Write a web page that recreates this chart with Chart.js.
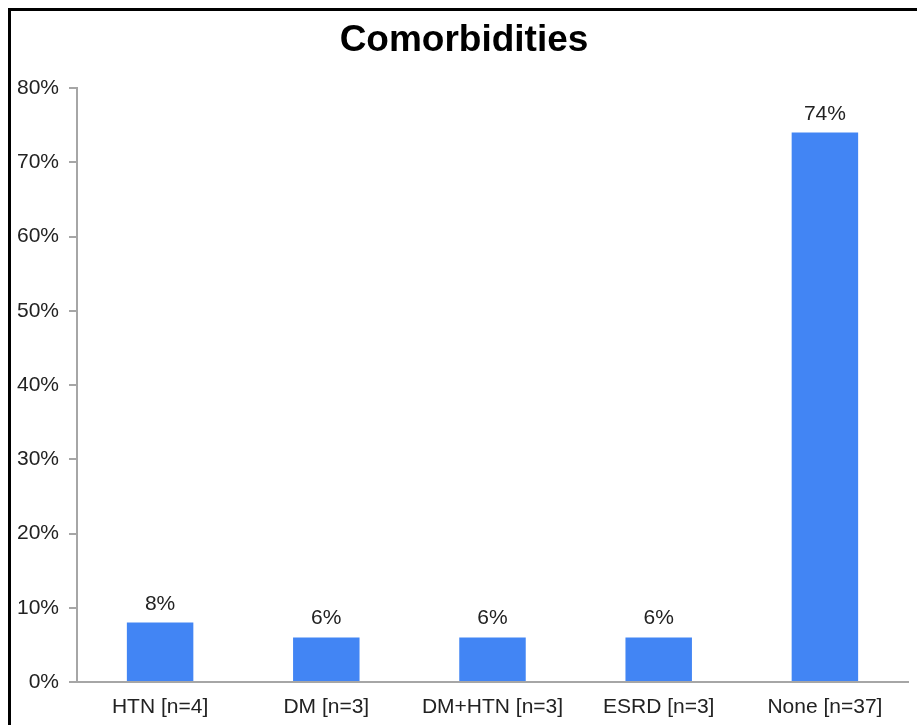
<!DOCTYPE html>
<html>
<head>
<meta charset="utf-8">
<script src="https://cdn.jsdelivr.net/npm/chart.js@4"></script>
<style>
html,body{margin:0;padding:0;background:#fff;overflow:hidden;}
#wrap{position:relative;width:917px;height:725px;}
#frame{position:absolute;left:8px;top:8px;width:3000px;height:3000px;border-left:3px solid #000;border-top:3px solid #000;pointer-events:none;}
canvas{position:absolute;left:0;top:0;}
</style>
</head>
<body>
<div id="wrap">
<canvas id="c" width="917" height="725"></canvas>
<div id="frame"></div>
</div>
<script>
const categories = ["HTN [n=4]", "DM [n=3]", "DM+HTN [n=3]", "ESRD [n=3]", "None [n=37]"];
const values = [8, 6, 6, 6, 74];
const yTicks = [0, 10, 20, 30, 40, 50, 60, 70, 80];
const titleText = "Comorbidities";

const textColor = '#222222';
const axisColor = '#a6a6a6';
const barColor = '#4285f4';

const valueLabels = {
  id: 'valueLabels',
  afterLayout(chart) {
    // let y tick labels use the full left margin (avoid clipping by layout padding)
    chart.scales.y.left = 0;
  },
  afterDatasetsDraw(chart) {
    const ctx = chart.ctx;
    const meta = chart.getDatasetMeta(0);
    ctx.save();
    ctx.font = '21px Arial, "Liberation Sans", sans-serif';
    ctx.fillStyle = textColor;
    ctx.textAlign = 'center';
    ctx.textBaseline = 'alphabetic';
    meta.data.forEach((bar, i) => {
      ctx.fillText(values[i] + '%', bar.x, bar.y - 13);
    });
    ctx.restore();
  }
};

new Chart(document.getElementById('c'), {
  type: 'bar',
  data: {
    labels: categories,
    datasets: [{
      data: values,
      backgroundColor: barColor,
      borderWidth: 0,
      categoryPercentage: 1.0,
      barPercentage: 0.4
    }]
  },
  options: {
    responsive: false,
    animation: false,
    devicePixelRatio: 1,
    layout: { padding: { left: 20, right: 9, top: 0, bottom: 0 } },
    plugins: {
      legend: { display: false },
      tooltip: { enabled: false },
      title: {
        display: true,
        text: titleText,
        color: '#000',
        font: { family: 'Arial, "Liberation Sans", sans-serif', size: 37, weight: 'bold', lineHeight: 1.0 },
        padding: { top: 22, bottom: 29 }
      }
    },
    scales: {
      x: {
        grid: { display: true, drawOnChartArea: false, drawTicks: false },
        border: { display: true, color: axisColor, width: 2 },
        ticks: {
          color: textColor,
          font: { family: 'Arial, "Liberation Sans", sans-serif', size: 21 },
          padding: 13,
          maxRotation: 0,
          autoSkip: false
        },
        afterFit(scale) { scale.height = 43; }
      },
      y: {
        min: 0,
        max: 80,
        afterBuildTicks(scale) { scale.ticks = yTicks.map(v => ({ value: v })); },
        grid: { display: true, drawOnChartArea: false, drawTicks: true, tickLength: 8, color: axisColor, lineWidth: 2 },
        border: { display: true, color: axisColor, width: 2 },
        ticks: {
          color: textColor,
          font: { family: 'Arial, "Liberation Sans", sans-serif', size: 21 },
          padding: 10,
          callback: (v) => v + '%'
        },
        afterFit(scale) { scale.width = 57; }
      }
    }
  },
  plugins: [valueLabels]
});
</script>
</body>
</html>
